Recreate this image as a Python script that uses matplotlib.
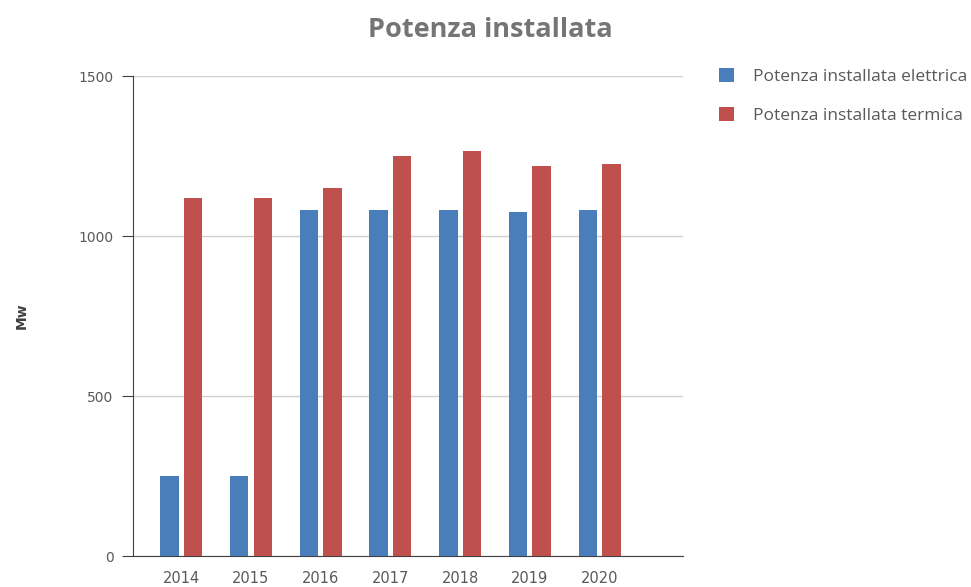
import matplotlib.pyplot as plt
import numpy as np

# Installed power per year (MW)
years = ['2014', '2015', '2016', '2017', '2018', '2019', '2020']
elettrica = [250, 250, 1081, 1081, 1081, 1076, 1081]
termica = [1118, 1118, 1150, 1250, 1265, 1219, 1224]

blue = '#4a7ebb'
red = '#c0504d'
grey_text = '#595959'

fig = plt.figure(figsize=(9.71, 5.87), dpi=100)
ax = fig.add_axes([0.137, 0.0528, 0.566, 0.8177])

x = np.arange(len(years))
w = 0.265
ax.bar(x - 0.17, elettrica, width=w, color=blue, label='Potenza installata elettrica', zorder=3)
ax.bar(x + 0.17, termica, width=w, color=red, label='Potenza installata termica', zorder=3)

ax.set_xlim(-0.69, 7.19)
ax.set_ylim(0, 1500)
ax.set_yticks([0, 500, 1000, 1500])
ax.set_xticks(x)
ax.set_xticklabels(years)

ax.grid(axis='y', color='#d0d0d0', linewidth=1, zorder=0)
for s in ['top', 'right']:
    ax.spines[s].set_visible(False)
ax.spines['left'].set_color('#404040')
ax.spines['bottom'].set_color('#404040')
ax.tick_params(axis='y', length=8, color='#404040', labelsize=10, labelcolor=grey_text, pad=6)
ax.tick_params(axis='x', length=0, labelsize=10.5, labelcolor=grey_text, pad=11)

ax.set_ylabel('Mw', fontsize=10, fontweight='bold', color='#404040', labelpad=36)

fig.text(0.505, 0.949, 'Potenza installata', ha='center', va='center',
         fontsize=19.5, fontweight='bold', fontstretch='normal', color='#757575',
         family='Open Sans')

ax.legend(loc='upper left', bbox_to_anchor=(1.0375, 1.05), frameon=False,
          prop={'family': 'Open Sans', 'size': 12.5}, labelcolor=grey_text,
          handlelength=0.9, handleheight=0.9,
          labelspacing=1.25, handletextpad=1.08)

fig.savefig('out.png', dpi=100)
